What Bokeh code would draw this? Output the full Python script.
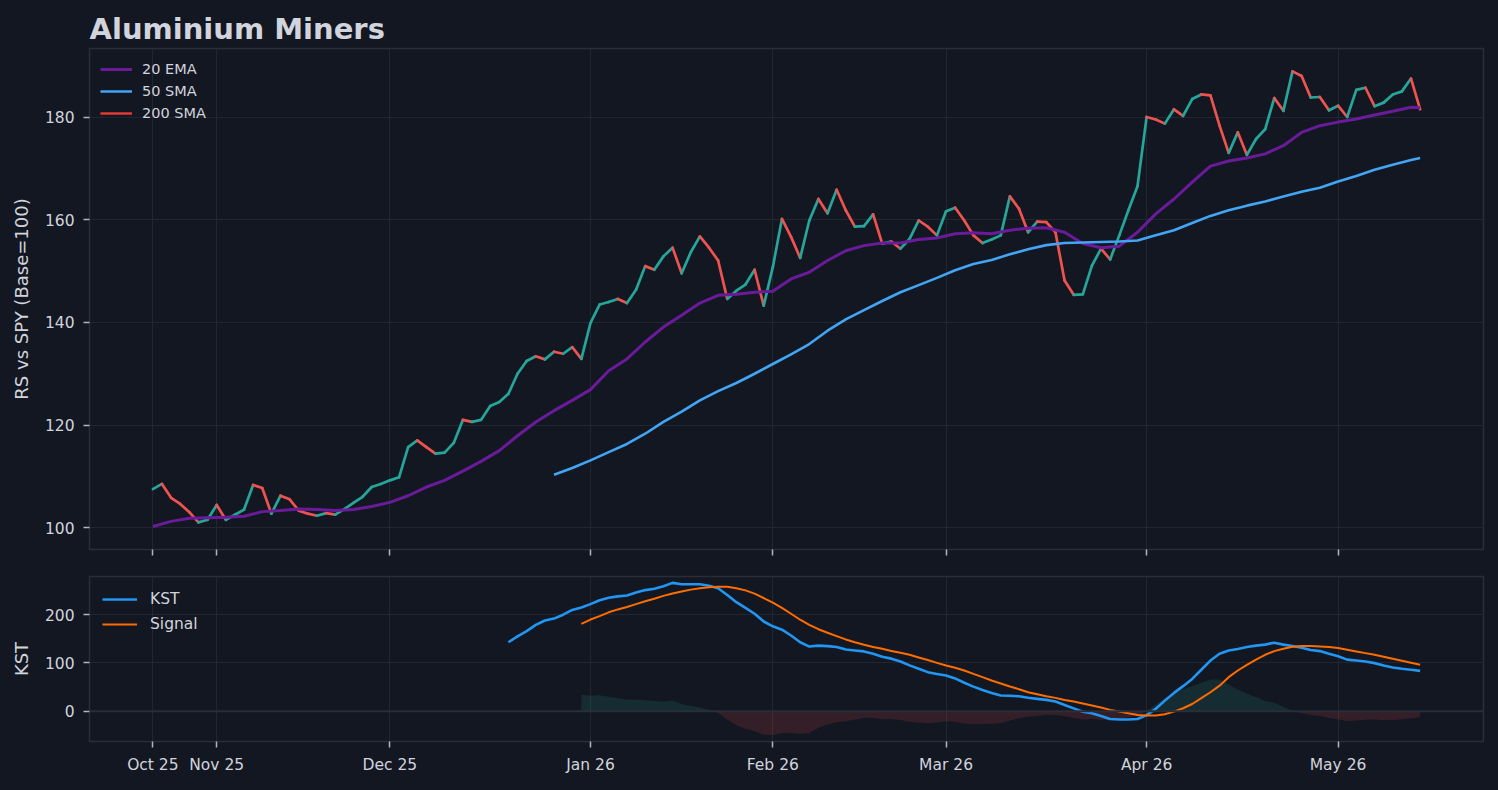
import numpy as np
from bokeh.plotting import figure
from bokeh.layouts import column
from bokeh.models import Range1d, FixedTicker, Span, Legend, LegendItem
from bokeh.embed import file_html
from bokeh.resources import INLINE

# ---------------- data (trading-day index on x) ----------------
month_ticks = [0, 7, 26, 48, 68, 87, 109, 130]
month_labels = ["Oct 25", "Nov 25", "Dec 25", "Jan 26", "Feb 26", "Mar 26", "Apr 26", "May 26"]

rs_price = [
    107.5, 108.5, 105.8, 104.6, 103.0, 101.0, 101.5, 104.4, 101.5, 102.5,
    103.5, 108.3, 107.7, 102.7, 106.2, 105.5, 103.3, 102.7, 102.3, 102.8,
    102.5, 103.6, 104.8, 106.0, 107.9, 108.5, 109.2, 109.8, 115.7, 117.0,
    115.7, 114.4, 114.6, 116.5, 121.0, 120.6, 121.0, 123.7, 124.5, 126.1,
    130.0, 132.5, 133.4, 132.8, 134.3, 133.9, 135.2, 132.9, 139.9, 143.5,
    144.0, 144.6, 143.8, 146.4, 151.0, 150.3, 152.9, 154.6, 149.6, 153.7,
    156.8, 154.6, 152.1, 144.6, 146.2, 147.4, 150.3, 143.3, 150.8, 160.2,
    156.7, 152.6, 159.9, 164.1, 161.3, 165.9, 161.9, 158.7, 158.8, 161.1,
    155.4, 155.8, 154.4, 156.3, 159.9, 158.7, 157.0, 161.7, 162.4, 159.9,
    157.0, 155.5, 156.2, 157.0, 164.6, 162.2, 157.6, 159.7, 159.6, 157.6,
    148.2, 145.4, 145.5, 151.1, 154.4, 152.3, 157.0, 161.9, 166.6, 180.1,
    179.6, 178.8, 181.6, 180.3, 183.6, 184.5, 184.3, 178.4, 173.1, 177.1,
    172.7, 175.8, 177.7, 183.8, 181.3, 189.0, 188.1, 183.9, 184.0, 181.4,
    182.3, 180.1, 185.4, 185.8, 182.2, 182.9, 184.5, 185.1, 187.6, 181.6,
]

ema20_idx = list(range(0, 140, 2)) + [139]
ema20 = [
    100.2, 101.2, 101.8, 101.9, 102.0, 102.2, 103.1, 103.3, 103.6, 103.5,
    103.3, 103.5, 104.1, 104.9, 106.2, 107.9, 109.2, 111.0, 112.9, 115.0,
    117.9, 120.6, 122.8, 124.8, 126.9, 130.6, 132.9, 136.2, 139.1, 141.4,
    143.8, 145.3, 145.5, 145.9, 146.1, 148.5, 149.8, 152.1, 154.0, 155.0,
    155.5, 155.5, 156.2, 156.5, 157.3, 157.5, 157.3, 158.0, 158.4, 158.5,
    157.6, 155.4, 154.6, 154.9, 157.6, 161.2, 164.1, 167.4, 170.5, 171.5,
    172.1, 172.9, 174.5, 177.1, 178.4, 179.1, 179.7, 180.5, 181.2, 182.0,
    181.9,
]

sma50_idx = list(range(44, 140, 2)) + [139]
sma50 = [
    110.3, 111.6, 113.1, 114.7, 116.3, 118.3, 120.6, 122.6, 124.8, 126.6,
    128.2, 130.0, 131.9, 133.8, 135.8, 138.4, 140.6, 142.4, 144.2, 145.9,
    147.3, 148.7, 150.2, 151.4, 152.2, 153.3, 154.3, 155.1, 155.5, 155.6,
    155.7, 155.8, 156.0, 157.0, 158.0, 159.4, 160.8, 161.9, 162.8, 163.6,
    164.6, 165.5, 166.3, 167.5, 168.6, 169.8, 170.8, 171.7, 172.1,
]

# 200 SMA: not enough history in the window -> undefined everywhere (legend entry only)
sma200 = [float("nan")] * len(rs_price)

kst_start = 39
kst = [
    143, 155, 166, 179, 188, 192, 200, 210, 215, 222,
    230, 235, 238, 240, 246, 251, 254, 259, 266, 263,
    263, 263, 260, 255, 241, 226, 214, 202, 186, 176,
    169, 157, 143, 134, 136, 135, 133, 128, 126, 124,
    119, 113, 109, 103, 95, 88, 81, 77, 74, 68,
    59, 51, 44, 38, 32.5, 32, 31, 28, 25.6, 23.5,
    20, 13, 6, -1, -4, -10, -16, -17, -17, -16,
    -8, 5, 22, 38, 52, 67, 86, 105, 119, 126,
    129, 133, 136, 138, 142, 138, 135, 131.5, 127, 124.6,
    119, 114, 107, 105, 103, 99.7, 94.8, 90.7, 88, 86,
    83.7,
]

signal_start = 47
kst_signal = [
    181, 190, 197, 205, 211, 216, 222, 228, 233, 239,
    244, 248, 252, 255, 257, 258, 258, 255, 250.5, 243.6,
    234.6, 225, 214, 202, 189.6, 179, 170, 162.6, 155.7, 148.8,
    143, 137.7, 133, 129.4, 125, 121, 117, 111.4, 106, 100.3,
    94.8, 90, 84.4, 77.5, 70.6, 63.7, 57.4, 51.2, 45.7, 39.4,
    35.3, 31, 27.7, 23.5, 20, 16, 11.8, 7.6, 2.8, -0.7,
    -4, -7.6, -9, -9, -6.2, -0.7, 6.2, 15, 27, 39.4,
    53, 70.6, 84.4, 96, 107, 117, 124.6, 129.4, 133.6, 135,
    135, 134.3, 133, 131, 127.3, 124, 120.4, 117, 112.8, 108.7,
    104.5, 100.3, 96.2,
]

# ---------------- styling ----------------
BG = "#131722"
TXT = "#d1d4dc"
GRID = "#222631"
EDGE = "#2a2e39"
FONT = "DejaVu Sans"
UP, DOWN = "#26a69a", "#ef5350"

W = 1490
X_RANGE = Range1d(-6.95, 145.95)


def style(p, ytick_vals):
    p.background_fill_color = BG
    p.border_fill_color = BG
    p.outline_line_color = EDGE
    p.outline_line_width = 1.5
    p.min_border_left = 89
    p.min_border_right = 7
    for ax in (p.xaxis[0], p.yaxis[0]):
        ax.axis_line_color = None
        ax.major_tick_line_color = "#b2b5be"
        ax.major_tick_line_width = 1.5
        ax.major_tick_in = 0
        ax.major_tick_out = 6
        ax.minor_tick_line_color = None
        ax.major_label_text_color = TXT
        ax.major_label_text_font = FONT
        ax.major_label_text_font_size = "15.5px"
        ax.axis_label_text_color = TXT
        ax.axis_label_text_font = FONT
        ax.axis_label_text_font_size = "18px"
        ax.axis_label_text_font_style = "normal"
    p.xaxis.ticker = FixedTicker(ticks=month_ticks)
    p.yaxis.ticker = FixedTicker(ticks=ytick_vals)
    p.yaxis.major_label_standoff = 9
    p.yaxis.axis_label_standoff = 10
    p.xgrid.grid_line_color = GRID
    p.ygrid.grid_line_color = GRID
    p.xgrid.grid_line_width = 1
    p.ygrid.grid_line_width = 1


# ---------------- top panel ----------------
p1 = figure(width=W, height=563, x_range=X_RANGE, y_range=Range1d(95.71, 193.46),
            output_backend="svg", toolbar_location=None)
style(p1, [100, 120, 140, 160, 180])
p1.min_border_top = 48
p1.min_border_bottom = 14
p1.xaxis.major_label_overrides = {t: "" for t in month_ticks}
p1.xaxis.major_label_standoff = 0
p1.yaxis.axis_label = "RS vs SPY (Base=100)"
p1.title.text = "Aluminium Miners"
p1.title.text_font = FONT
p1.title.text_font_size = "29px"
p1.title.text_font_style = "bold"
p1.title.text_color = TXT
p1.title.align = "left"
p1.title.standoff = 5

n = len(rs_price)
x0 = list(range(n - 1))
x1 = list(range(1, n))
y0 = rs_price[:-1]
y1 = rs_price[1:]
seg_col = [UP if b >= a else DOWN for a, b in zip(y0, y1)]
p1.segment(x0=x0, y0=y0, x1=x1, y1=y1, line_color=seg_col, line_width=2.7, line_cap="round")

r_ema = p1.line(ema20_idx, ema20, line_color="#6a1b9a", line_width=3, line_join="round")
r_sma = p1.line(sma50_idx, sma50, line_color="#42a5f5", line_width=2.6, line_join="round")
r_200 = p1.line(list(range(len(sma200))), sma200, line_color="#e53935", line_width=2.6)

leg1 = Legend(items=[LegendItem(label="20 EMA", renderers=[r_ema]),
                     LegendItem(label="50 SMA", renderers=[r_sma]),
                     LegendItem(label="200 SMA", renderers=[r_200])],
              location="top_left")
leg1.background_fill_alpha = 0
leg1.border_line_alpha = 0
leg1.label_text_color = TXT
leg1.label_text_font = FONT
leg1.label_text_font_size = "14.5px"
leg1.glyph_width = 32
leg1.glyph_height = 20
leg1.label_height = 20
leg1.spacing = 2
leg1.padding = 5
leg1.margin = 6
leg1.label_standoff = 10
p1.add_layout(leg1)

# ---------------- bottom panel ----------------
p2 = figure(width=W, height=219, x_range=X_RANGE, y_range=Range1d(-62.7, 279.2),
            output_backend="svg", toolbar_location=None)
style(p2, [0, 100, 200])
p2.min_border_top = 13
p2.min_border_bottom = 41
p2.xaxis.major_label_overrides = {t: l for t, l in zip(month_ticks, month_labels)}
p2.xaxis.major_label_standoff = 8
p2.yaxis.axis_label = "KST"

kst_x = list(range(kst_start, kst_start + len(kst)))
sig_x = list(range(signal_start, signal_start + len(kst_signal)))
kst_map = dict(zip(kst_x, kst))
hist = [kst_map[i] - s for i, s in zip(sig_x, kst_signal)]
hist_pos = [max(h, 0) for h in hist]
hist_neg = [min(h, 0) for h in hist]
p2.varea(x=sig_x, y1=[0] * len(sig_x), y2=hist_pos, fill_color=UP, fill_alpha=0.15)
p2.varea(x=sig_x, y1=[0] * len(sig_x), y2=hist_neg, fill_color=DOWN, fill_alpha=0.15)
p2.add_layout(Span(location=0, dimension="width", line_color=EDGE, line_width=1.8))

r_kst = p2.line(kst_x, kst, line_color="#2196f3", line_width=2.6, line_join="round")
r_sig = p2.line(sig_x, kst_signal, line_color="#ff6d00", line_width=2, line_join="round")

leg2 = Legend(items=[LegendItem(label="KST", renderers=[r_kst]),
                     LegendItem(label="Signal", renderers=[r_sig])],
              location="top_left")
leg2.background_fill_alpha = 0
leg2.border_line_alpha = 0
leg2.label_text_color = TXT
leg2.label_text_font = FONT
leg2.label_text_font_size = "15.5px"
leg2.glyph_width = 35
leg2.glyph_height = 20
leg2.label_height = 20
leg2.spacing = 5
leg2.padding = 6
leg2.margin = 7
leg2.label_standoff = 13
p2.add_layout(leg2)

layout = column(p1, p2, spacing=0)
html = file_html(layout, INLINE, title="Aluminium Miners")
html = html.replace("</head>", "<style>html,body{background:#131722;}</style></head>", 1)
open("out.html", "w").write(html)
